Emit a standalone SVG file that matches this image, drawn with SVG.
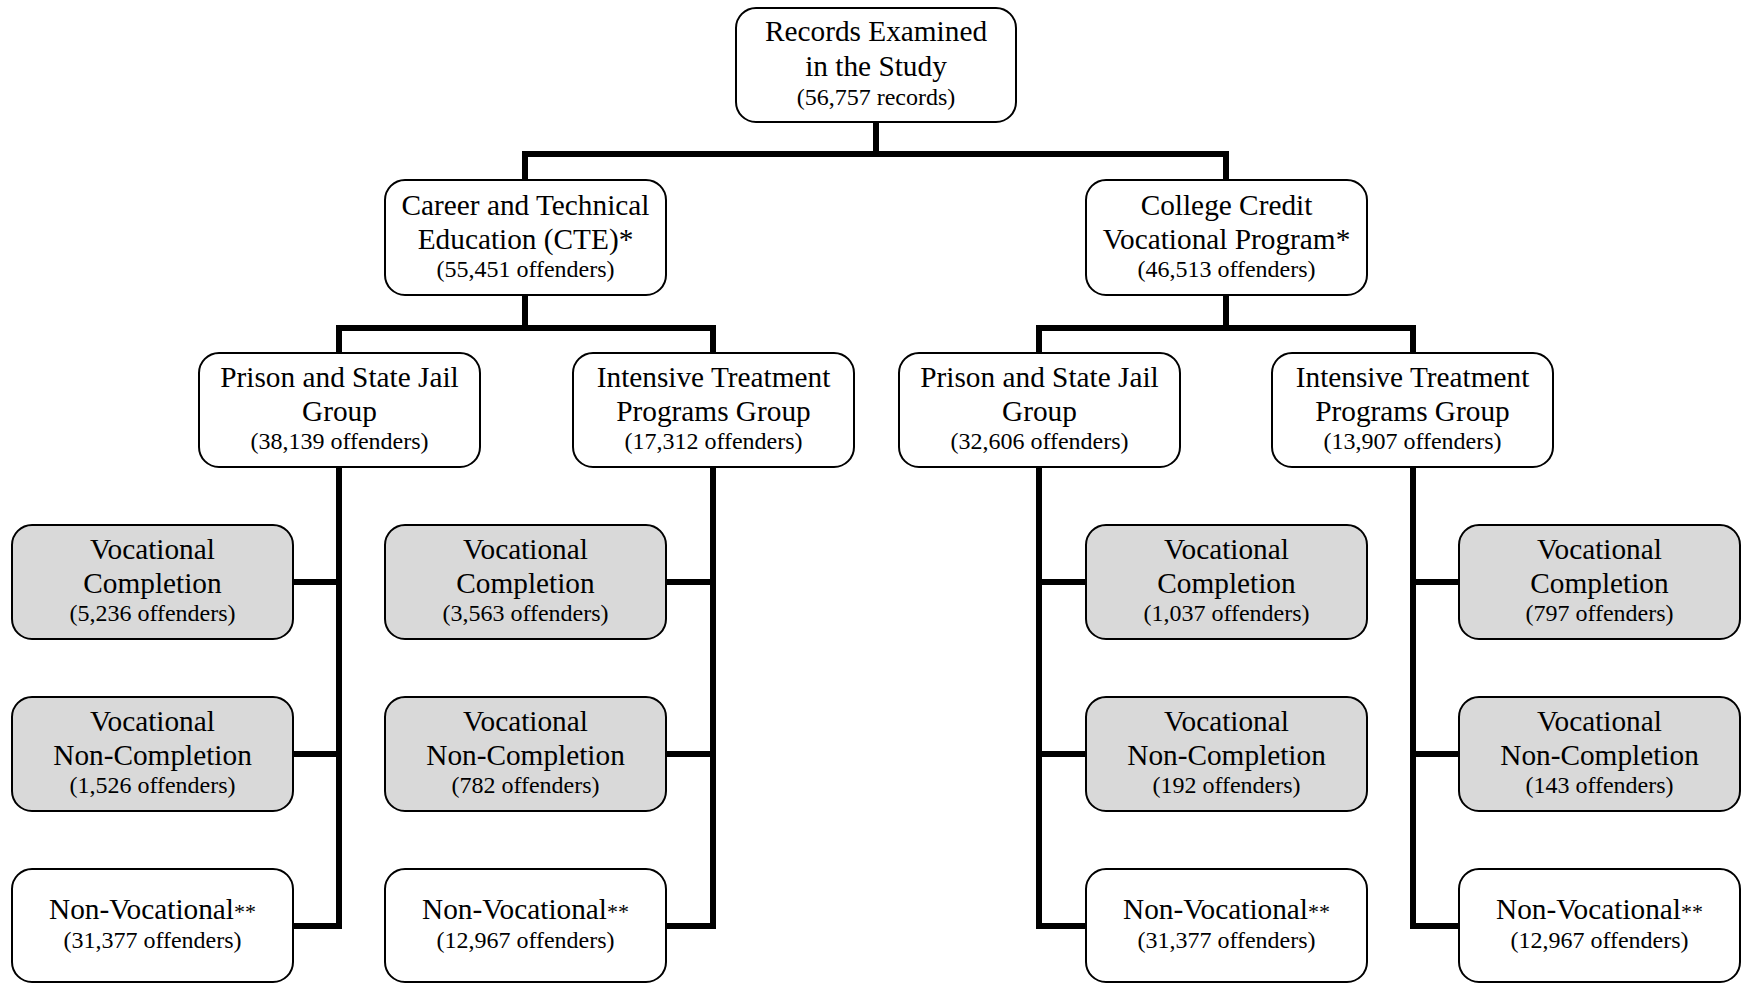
<svg xmlns="http://www.w3.org/2000/svg" width="1741" height="983" viewBox="0 0 1741 983">
<style>
.box{fill:#ffffff;stroke:#000;stroke-width:2}
.grey{fill:#d9d9d9;stroke:#000;stroke-width:2}
.big{font-family:"Liberation Serif","Times New Roman",serif;font-size:29.3px;fill:#000;text-anchor:middle}
.small{font-family:"Liberation Serif","Times New Roman",serif;font-size:24px;fill:#000;text-anchor:middle}
.ast{font-size:22px}
.conn{fill:none;stroke:#000;stroke-width:6;stroke-linejoin:miter;stroke-linecap:butt}
</style>
<rect width="1741" height="983" fill="#ffffff"/>
<g id="connectors" class="conn">
<path d="M876,122 V154 M525,180 V154 H1226 V180"/>
<path d="M525,295 V328 M339,353 V328 H713 V353"/>
<path d="M1226,295 V328 M1039,353 V328 H1413 V353"/>
<path d="M339,467 V926 H293 M293,582 H339 M293,754 H339"/>
<path d="M713,467 V926 H666 M666,582 H713 M666,754 H713"/>
<path d="M1039,467 V926 H1086 M1086,582 H1039 M1086,754 H1039"/>
<path d="M1413,467 V926 H1459 M1459,582 H1413 M1459,754 H1413"/>
</g>
<g id="root">
<rect class="box" x="736" y="8" width="280" height="114" rx="20"/>
<text class="big" x="876" y="41">Records Examined</text>
<text class="big" x="876" y="76">in the Study</text>
<text class="small" x="876" y="105">(56,757 records)</text>
</g>
<g id="cte">
<rect class="box" x="385" y="180" width="281" height="115" rx="20"/>
<text class="big" x="525.5" y="214.5">Career and Technical</text>
<text class="big" x="525.5" y="248.5">Education (CTE)*</text>
<text class="small" x="525.5" y="277">(55,451 offenders)</text>
</g>
<g id="college">
<rect class="box" x="1086" y="180" width="281" height="115" rx="20"/>
<text class="big" x="1226.5" y="214.5">College Credit</text>
<text class="big" x="1226.5" y="248.5">Vocational Program*</text>
<text class="small" x="1226.5" y="277">(46,513 offenders)</text>
</g>
<g id="cte-prison">
<rect class="box" x="199" y="353" width="281" height="114" rx="20"/>
<text class="big" x="339.5" y="386.5">Prison and State Jail</text>
<text class="big" x="339.5" y="420.5">Group</text>
<text class="small" x="339.5" y="449">(38,139 offenders)</text>
</g>
<g id="cte-itp">
<rect class="box" x="573" y="353" width="281" height="114" rx="20"/>
<text class="big" x="713.5" y="386.5">Intensive Treatment</text>
<text class="big" x="713.5" y="420.5">Programs Group</text>
<text class="small" x="713.5" y="449">(17,312 offenders)</text>
</g>
<g id="cc-prison">
<rect class="box" x="899" y="353" width="281" height="114" rx="20"/>
<text class="big" x="1039.5" y="386.5">Prison and State Jail</text>
<text class="big" x="1039.5" y="420.5">Group</text>
<text class="small" x="1039.5" y="449">(32,606 offenders)</text>
</g>
<g id="cc-itp">
<rect class="box" x="1272" y="353" width="281" height="114" rx="20"/>
<text class="big" x="1412.5" y="386.5">Intensive Treatment</text>
<text class="big" x="1412.5" y="420.5">Programs Group</text>
<text class="small" x="1412.5" y="449">(13,907 offenders)</text>
</g>
<!-- Column 1 -->
<g id="c1-comp">
<rect class="grey" x="12" y="525" width="281" height="114" rx="20"/>
<text class="big" x="152.5" y="559">Vocational</text>
<text class="big" x="152.5" y="592.5">Completion</text>
<text class="small" x="152.5" y="621">(5,236 offenders)</text>
</g>
<g id="c1-noncomp">
<rect class="grey" x="12" y="697" width="281" height="114" rx="20"/>
<text class="big" x="152.5" y="731">Vocational</text>
<text class="big" x="152.5" y="764.5">Non-Completion</text>
<text class="small" x="152.5" y="793">(1,526 offenders)</text>
</g>
<g id="c1-nonvoc">
<rect class="box" x="12" y="869" width="281" height="113" rx="20"/>
<text class="big" x="152.5" y="919">Non-Vocational<tspan class="ast">**</tspan></text>
<text class="small" x="152.5" y="948">(31,377 offenders)</text>
</g>
<!-- Column 2 -->
<g id="c2-comp">
<rect class="grey" x="385" y="525" width="281" height="114" rx="20"/>
<text class="big" x="525.5" y="559">Vocational</text>
<text class="big" x="525.5" y="592.5">Completion</text>
<text class="small" x="525.5" y="621">(3,563 offenders)</text>
</g>
<g id="c2-noncomp">
<rect class="grey" x="385" y="697" width="281" height="114" rx="20"/>
<text class="big" x="525.5" y="731">Vocational</text>
<text class="big" x="525.5" y="764.5">Non-Completion</text>
<text class="small" x="525.5" y="793">(782 offenders)</text>
</g>
<g id="c2-nonvoc">
<rect class="box" x="385" y="869" width="281" height="113" rx="20"/>
<text class="big" x="525.5" y="919">Non-Vocational<tspan class="ast">**</tspan></text>
<text class="small" x="525.5" y="948">(12,967 offenders)</text>
</g>
<!-- Column 3 -->
<g id="c3-comp">
<rect class="grey" x="1086" y="525" width="281" height="114" rx="20"/>
<text class="big" x="1226.5" y="559">Vocational</text>
<text class="big" x="1226.5" y="592.5">Completion</text>
<text class="small" x="1226.5" y="621">(1,037 offenders)</text>
</g>
<g id="c3-noncomp">
<rect class="grey" x="1086" y="697" width="281" height="114" rx="20"/>
<text class="big" x="1226.5" y="731">Vocational</text>
<text class="big" x="1226.5" y="764.5">Non-Completion</text>
<text class="small" x="1226.5" y="793">(192 offenders)</text>
</g>
<g id="c3-nonvoc">
<rect class="box" x="1086" y="869" width="281" height="113" rx="20"/>
<text class="big" x="1226.5" y="919">Non-Vocational<tspan class="ast">**</tspan></text>
<text class="small" x="1226.5" y="948">(31,377 offenders)</text>
</g>
<!-- Column 4 -->
<g id="c4-comp">
<rect class="grey" x="1459" y="525" width="281" height="114" rx="20"/>
<text class="big" x="1599.5" y="559">Vocational</text>
<text class="big" x="1599.5" y="592.5">Completion</text>
<text class="small" x="1599.5" y="621">(797 offenders)</text>
</g>
<g id="c4-noncomp">
<rect class="grey" x="1459" y="697" width="281" height="114" rx="20"/>
<text class="big" x="1599.5" y="731">Vocational</text>
<text class="big" x="1599.5" y="764.5">Non-Completion</text>
<text class="small" x="1599.5" y="793">(143 offenders)</text>
</g>
<g id="c4-nonvoc">
<rect class="box" x="1459" y="869" width="281" height="113" rx="20"/>
<text class="big" x="1599.5" y="919">Non-Vocational<tspan class="ast">**</tspan></text>
<text class="small" x="1599.5" y="948">(12,967 offenders)</text>
</g>
</svg>
